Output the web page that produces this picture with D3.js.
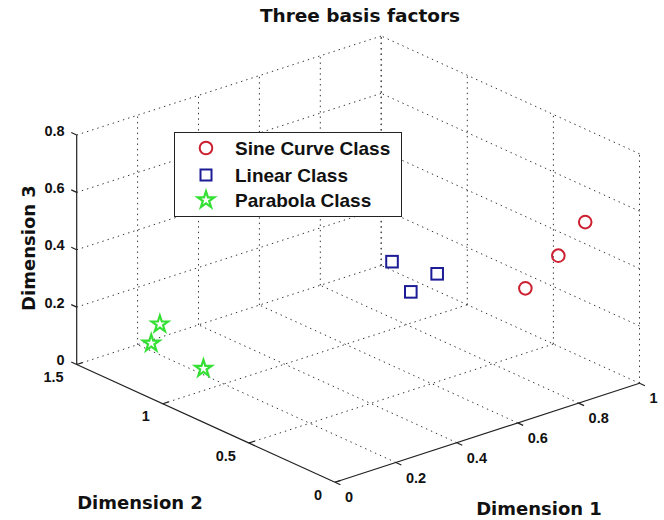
<!DOCTYPE html>
<html>
<head>
<meta charset="utf-8">
<title>Three basis factors</title>
<script src="https://d3js.org/d3.v7.min.js"></script>
<style>
  body { margin: 0; background: #fff; }
  svg { display: block; }
  .tick { font-family: "Liberation Sans", Arial, sans-serif; font-weight: bold; font-size: 14.5px; fill: #111; }
  .lab { font-family: "DejaVu Sans", sans-serif; font-weight: bold; font-size: 17.5px; fill: #111; }
  .leg { font-family: "Liberation Sans", Arial, sans-serif; font-weight: bold; font-size: 19px; fill: #111; }
</style>
</head>
<body>
<script>
// data (3D coordinates)
const classes = ["Sine Curve Class", "Linear Class", "Parabola Class"];
const sineX = [0.85, 0.79, 0.71];
const sineY = [0.05, 0.10, 0.15];
const sineZ = [0.60, 0.49, 0.39];
const linX = [0.47, 0.59, 0.56];
const linY = [0.50, 0.45, 0.55];
const linZ = [0.47, 0.40, 0.32];
const parX = [0.16, 0.16, 0.19];
const parY = [1.30, 1.35, 1.10];
const parZ = [0.14, 0.06, 0.03];

const xTicks = [0, 0.2, 0.4, 0.6, 0.8, 1];
const yTicks = [0, 0.5, 1, 1.5];
const zTicks = [0, 0.2, 0.4, 0.6, 0.8];
const xTickLabels = ["0", "0.2", "0.4", "0.6", "0.8", "1"];
const yTickLabels = ["0", "0.5", "1", "1.5"];
const zTickLabels = ["0", "0.2", "0.4", "0.6", "0.8"];

const W = 664, H = 520;
const svg = d3.select("body").append("svg").attr("width", W).attr("height", H);

// scales: data -> fraction of the box edge
const xS = d3.scaleLinear().domain([0, 1]).range([0, 1]);
const yS = d3.scaleLinear().domain([0, 1.5]).range([0, 1]);
const zS = d3.scaleLinear().domain([0, 0.8]).range([0, 1]);

// orthographic view: origin and screen vectors of each full box edge
const O = [335, 482.3];
const VX = [304.5, -99];
const VY = [-258.3, -117.8];
const VZ = [0, -229.5];

function proj(x, y, z) {
  const a = xS(x), b = yS(y), c = zS(z);
  return [O[0] + a * VX[0] + b * VY[0] + c * VZ[0],
          O[1] + a * VX[1] + b * VY[1] + c * VZ[1]];
}

const xMax = 1, yMax = 1.5, zMax = 0.8;
const grid = [];
// floor z=0
xTicks.forEach(v => { if (v > 0) grid.push([proj(v, 0, 0), proj(v, yMax, 0)]); });
yTicks.forEach(v => { if (v > 0) grid.push([proj(0, v, 0), proj(xMax, v, 0)]); });
// back wall y=yMax
xTicks.forEach(v => { if (v > 0) grid.push([proj(v, yMax, 0), proj(v, yMax, zMax)]); });
zTicks.forEach(v => { if (v > 0) grid.push([proj(0, yMax, v), proj(xMax, yMax, v)]); });
// back wall x=xMax
yTicks.forEach(v => grid.push([proj(xMax, v, 0), proj(xMax, v, zMax)]));
zTicks.forEach(v => { if (v > 0) grid.push([proj(xMax, 0, v), proj(xMax, yMax, v)]); });

svg.append("g").selectAll("line").data(grid).join("line")
  .attr("x1", d => d[0][0]).attr("y1", d => d[0][1])
  .attr("x2", d => d[1][0]).attr("y2", d => d[1][1])
  .attr("stroke", "#333").attr("stroke-width", 1)
  .attr("stroke-dasharray", "1.4,4");

// solid axis lines
const axes = [
  [proj(0, 0, 0), proj(xMax, 0, 0)],
  [proj(0, 0, 0), proj(0, yMax, 0)],
  [proj(0, yMax, 0), proj(0, yMax, zMax)]
];
svg.append("g").selectAll("line").data(axes).join("line")
  .attr("x1", d => d[0][0]).attr("y1", d => d[0][1])
  .attr("x2", d => d[1][0]).attr("y2", d => d[1][1])
  .attr("stroke", "#222").attr("stroke-width", 1.2);

// tick marks
function unit(v, len) { const n = Math.hypot(v[0], v[1]); return [v[0] / n * len, v[1] / n * len]; }
const tx = unit([-VY[0], -VY[1]], 6);
const ty = unit(VX, 6);
const tz = unit(VY, 6);
const tickLines = [];
xTicks.forEach(v => { const p = proj(v, 0, 0); tickLines.push([p, [p[0] + tx[0], p[1] + tx[1]]]); });
yTicks.forEach(v => { const p = proj(0, v, 0); tickLines.push([p, [p[0] + ty[0], p[1] + ty[1]]]); });
zTicks.forEach(v => { const p = proj(0, yMax, v); tickLines.push([p, [p[0] + tz[0], p[1] + tz[1]]]); });
svg.append("g").selectAll("line").data(tickLines).join("line")
  .attr("x1", d => d[0][0]).attr("y1", d => d[0][1])
  .attr("x2", d => d[1][0]).attr("y2", d => d[1][1])
  .attr("stroke", "#222").attr("stroke-width", 1.2);

// tick labels
svg.append("g").selectAll("text").data(xTicks).join("text")
  .attr("class", "tick")
  .attr("x", d => proj(d, 0, 0)[0] + 10)
  .attr("y", d => proj(d, 0, 0)[1] + 20)
  .text((d, i) => xTickLabels[i]);
svg.append("g").selectAll("text").data(yTicks).join("text")
  .attr("class", "tick").attr("text-anchor", "end")
  .attr("x", d => proj(0, d, 0)[0] - 13)
  .attr("y", d => proj(0, d, 0)[1] + 17.5)
  .text((d, i) => yTickLabels[i]);
svg.append("g").selectAll("text").data(zTicks).join("text")
  .attr("class", "tick").attr("text-anchor", "end")
  .attr("x", d => proj(0, yMax, d)[0] - 12)
  .attr("y", d => proj(0, yMax, d)[1] + 0.5)
  .text((d, i) => zTickLabels[i]);

// axis labels and title
svg.append("text").attr("class", "lab").attr("text-anchor", "middle")
  .attr("x", 360).attr("y", 22).style("font-size", "18.5px").text("Three basis factors");
svg.append("text").attr("class", "lab").attr("text-anchor", "middle")
  .attr("x", 539).attr("y", 515).style("font-size", "18px").text("Dimension 1");
svg.append("text").attr("class", "lab").attr("text-anchor", "middle")
  .attr("x", 140).attr("y", 509).style("font-size", "18px").text("Dimension 2");
svg.append("text").attr("class", "lab").attr("text-anchor", "middle")
  .attr("transform", "translate(35,248) rotate(-90)").style("font-size", "18px").text("Dimension 3");

// markers
const red = "#cc2030", blue = "#1c1c96", green = "#35e035";
const star = d3.symbol().type(d3.symbolStar).size(85);

function pts(xs, ys, zs) { return xs.map((x, i) => proj(x, ys[i], zs[i])); }

svg.append("g").selectAll("circle").data(pts(sineX, sineY, sineZ)).join("circle")
  .attr("cx", d => d[0]).attr("cy", d => d[1]).attr("r", 6.3)
  .attr("fill", "none").attr("stroke", red).attr("stroke-width", 2);
svg.append("g").selectAll("rect").data(pts(linX, linY, linZ)).join("rect")
  .attr("x", d => d[0] - 5.8).attr("y", d => d[1] - 5.8).attr("width", 11.6).attr("height", 11.6)
  .attr("fill", "none").attr("stroke", blue).attr("stroke-width", 2);
svg.append("g").selectAll("path").data(pts(parX, parY, parZ)).join("path")
  .attr("transform", d => `translate(${d[0]},${d[1]})`).attr("d", star)
  .attr("fill", "none").attr("stroke", green).attr("stroke-width", 2.2);

// legend
const lg = svg.append("g");
lg.append("rect").attr("x", 174.5).attr("y", 132.5).attr("width", 227).attr("height", 84)
  .attr("fill", "#fff").attr("stroke", "#222").attr("stroke-width", 1);
const rowY = [148, 175, 200];
lg.append("circle").attr("cx", 206).attr("cy", rowY[0]).attr("r", 6.3)
  .attr("fill", "none").attr("stroke", red).attr("stroke-width", 2);
lg.append("rect").attr("x", 200.5).attr("y", rowY[1] - 5.5).attr("width", 11).attr("height", 11)
  .attr("fill", "none").attr("stroke", blue).attr("stroke-width", 2);
lg.append("path").attr("transform", `translate(206,${rowY[2]})`).attr("d", star)
  .attr("fill", "none").attr("stroke", green).attr("stroke-width", 2.2);
lg.selectAll("text.leg").data(classes).join("text")
  .attr("class", "leg").attr("x", 235).attr("y", (d, i) => rowY[i] + 7)
  .text(d => d);
</script>
</body>
</html>
